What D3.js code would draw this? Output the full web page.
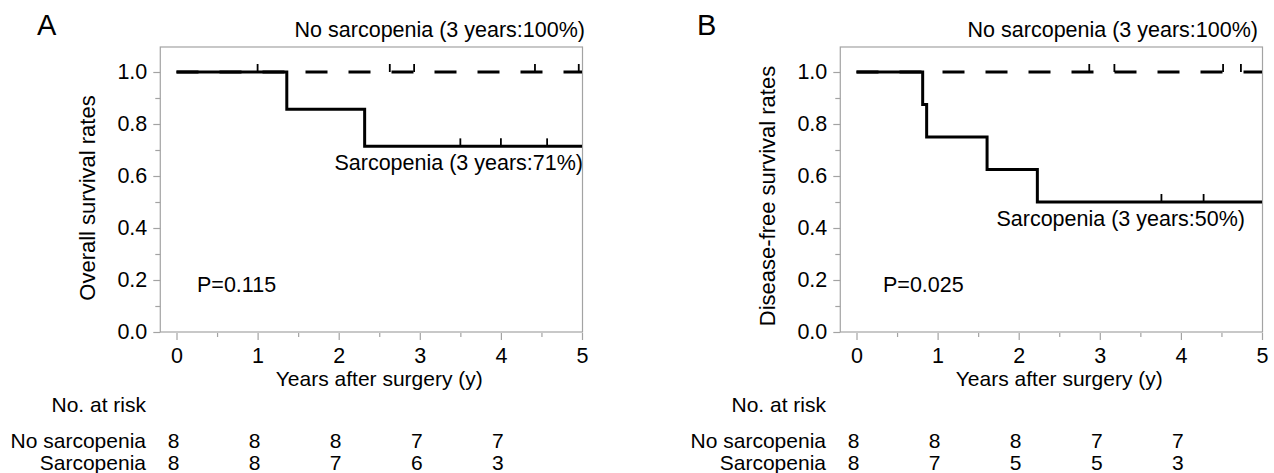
<!DOCTYPE html>
<html>
<head>
<meta charset="utf-8">
<script src="https://cdn.jsdelivr.net/npm/d3@7"></script>
<style>
  body { margin: 0; background: #fff; }
  text { font-family: "Liberation Sans", Arial, Helvetica, sans-serif; fill: #000; }
</style>
</head>
<body>
<div id="canvas"></div>
<script>
/* DATA */
const yearTicks = [0, 1, 2, 3, 4, 5];
const rateTicks = [0, 0.2, 0.4, 0.6, 0.8, 1.0];
const riskYears = [0, 1, 2, 3, 4];
const riskGroups = ["No sarcopenia", "Sarcopenia"];

// panel A: overall survival
const osNoSarcTime = [0, 5];
const osNoSarcRate = [1, 1];
const osNoSarcCensor = [2.63, 2.93, 4.42, 4.96];
const osSarcTime = [0, 1.36, 2.32, 5];
const osSarcRate = [1, 0.857, 0.714, 0.714];
const osSarcCensor = [1.0, 3.5, 4.0, 4.57];
const osRiskNoSarc = [8, 8, 8, 7, 7];
const osRiskSarc = [8, 8, 7, 6, 3];

// panel B: disease-free survival
const dfsNoSarcTime = [0, 5];
const dfsNoSarcRate = [1, 1];
const dfsNoSarcCensor = [2.87, 3.18, 4.52, 4.74];
const dfsSarcTime = [0, 0.816, 0.865, 1.61, 2.23, 5];
const dfsSarcRate = [1, 0.875, 0.75, 0.625, 0.5, 0.5];
const dfsSarcCensor = [3.76, 4.28];
const dfsRiskNoSarc = [8, 8, 8, 7, 7];
const dfsRiskSarc = [8, 7, 5, 5, 3];

/* CREATE THE SVG CANVAS */
const width = 1274;
const height = 473;

const svg = d3.select("#canvas")
    .append("svg")
    .attr("width", width)
    .attr("height", height);

const gray = "#a3a3a3";

/* ONE KAPLAN-MEIER PANEL */
function drawPanel(p) {
    const g = svg.append("g").attr("transform", `translate(${p.dx},0)`);

    const x = d3.scaleLinear().domain([0, 5]).range([176.5, 582]);
    const y = d3.scaleLinear().domain([0, 1]).range([332, 72]);

    // box
    g.append("rect")
        .attr("x", x(-0.2))
        .attr("y", y(1.1) + 1)
        .attr("width", x(5) - x(-0.2) + 0.5)
        .attr("height", y(0) - y(1.1) - 1)
        .attr("fill", "none")
        .attr("stroke", gray)
        .attr("stroke-width", 1.2);

    // y axis
    const yMinor = g.append("g")
        .attr("transform", `translate(${x(-0.2)},0)`)
        .call(d3.axisLeft(y).tickValues(d3.range(0.1, 1.1, 0.2)).tickSize(5).tickFormat(""));
    const yAxis = g.append("g")
        .attr("transform", `translate(${x(-0.2)},0)`)
        .call(d3.axisLeft(y).tickValues(rateTicks).tickSize(7).tickPadding(6)
            .tickFormat(d3.format(".1f")));

    // x axis
    const xMinor = g.append("g")
        .attr("transform", `translate(0,${y(0) + 1})`)
        .call(d3.axisBottom(x).tickValues(d3.range(0.5, 5, 1)).tickSize(4).tickFormat(""));
    const xAxis = g.append("g")
        .attr("transform", `translate(0,${y(0) + 1})`)
        .call(d3.axisBottom(x).tickValues(yearTicks).tickSize(7).tickPadding(8)
            .tickFormat(d3.format("d")));

    [yMinor, yAxis, xMinor, xAxis].forEach(a => {
        a.select(".domain").remove();
        a.selectAll("line").attr("stroke", gray).attr("stroke-width", 1.2);
        a.selectAll("text").attr("font-size", 21.5).attr("fill", "#000");
    });

    // curves
    const line = d3.line()
        .x(d => x(d[0]))
        .y(d => y(d[1]))
        .curve(d3.curveStepAfter);

    g.append("path")
        .datum(d3.zip(p.noTime, p.noRate))
        .attr("d", line)
        .attr("fill", "none")
        .attr("stroke", "#000")
        .attr("stroke-width", 3)
        .attr("stroke-dasharray", "22,21");

    g.append("path")
        .datum(d3.zip(p.sarcTime, p.sarcRate))
        .attr("d", line)
        .attr("fill", "none")
        .attr("stroke", "#000")
        .attr("stroke-width", 3);

    // censor marks
    const stepAt = (times, rates, t) => rates[d3.bisectRight(times, t) - 1];
    const censor = p.noCensor.map(t => [t, stepAt(p.noTime, p.noRate, t)])
        .concat(p.sarcCensor.map(t => [t, stepAt(p.sarcTime, p.sarcRate, t)]));

    g.selectAll(".censor")
        .data(censor)
        .join("line")
        .attr("x1", d => x(d[0]))
        .attr("x2", d => x(d[0]))
        .attr("y1", d => y(d[1]))
        .attr("y2", d => y(d[1]) - 8)
        .attr("stroke", "#000")
        .attr("stroke-width", 1.8);

    // texts
    g.append("text")
        .attr("x", p.letterX)
        .attr("y", 35)
        .attr("font-size", 29)
        .text(p.letter);

    g.append("text")
        .attr("x", p.noLabelX)
        .attr("y", 37)
        .attr("text-anchor", "end")
        .attr("font-size", 21.5)
        .text("No sarcopenia (3 years:100%)");

    g.append("text")
        .attr("x", p.sarcLabelX)
        .attr("y", p.sarcLabelY)
        .attr("text-anchor", "end")
        .attr("font-size", 21.5)
        .text(p.sarcLabel);

    g.append("text")
        .attr("x", p.pX)
        .attr("y", 292)
        .attr("font-size", 21.5)
        .text(p.pText);

    g.append("text")
        .attr("transform", `translate(95,${p.yLabelY}) rotate(-90)`)
        .attr("text-anchor", "middle")
        .attr("font-size", 22)
        .text(p.yLabel);

    g.append("text")
        .attr("x", (x(0) + x(5)) / 2)
        .attr("y", 386)
        .attr("text-anchor", "middle")
        .attr("font-size", 21)
        .text("Years after surgery (y)");

    // number at risk table
    g.append("text")
        .attr("x", 146)
        .attr("y", 412)
        .attr("text-anchor", "end")
        .attr("font-size", 21)
        .text("No. at risk");

    const rows = [p.riskNo, p.riskSarc];
    rows.forEach((vals, i) => {
        const ry = 448 + i * 21.5;
        g.append("text")
            .attr("x", 146)
            .attr("y", ry)
            .attr("text-anchor", "end")
            .attr("font-size", 21)
            .text(riskGroups[i]);
        g.selectAll(null)
            .data(d3.zip(riskYears, vals))
            .join("text")
            .attr("x", d => x(d[0]) - 3)
            .attr("y", ry)
            .attr("text-anchor", "middle")
            .attr("font-size", 21)
            .text(d => d[1]);
    });
}

drawPanel({
    dx: 0, letter: "A", letterX: 37,
    noTime: osNoSarcTime, noRate: osNoSarcRate, noCensor: osNoSarcCensor,
    sarcTime: osSarcTime, sarcRate: osSarcRate, sarcCensor: osSarcCensor,
    riskNo: osRiskNoSarc, riskSarc: osRiskSarc,
    noLabelX: 585, sarcLabelX: 583, sarcLabelY: 170,
    sarcLabel: "Sarcopenia (3 years:71%)",
    pX: 197, pText: "P=0.115",
    yLabel: "Overall survival rates", yLabelY: 198
});

drawPanel({
    dx: 680, letter: "B", letterX: 17,
    noTime: dfsNoSarcTime, noRate: dfsNoSarcRate, noCensor: dfsNoSarcCensor,
    sarcTime: dfsSarcTime, sarcRate: dfsSarcRate, sarcCensor: dfsSarcCensor,
    riskNo: dfsRiskNoSarc, riskSarc: dfsRiskSarc,
    noLabelX: 578, sarcLabelX: 565, sarcLabelY: 226,
    sarcLabel: "Sarcopenia (3 years:50%)",
    pX: 203, pText: "P=0.025",
    yLabel: "Disease-free survival rates", yLabelY: 196
});
</script>
</body>
</html>
